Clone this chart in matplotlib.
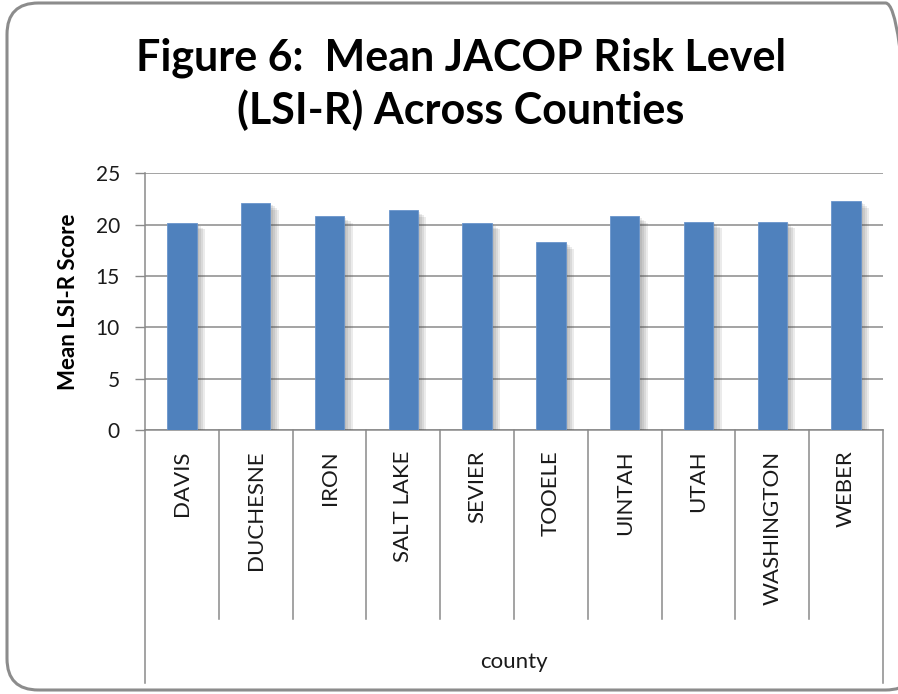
import matplotlib
matplotlib.use('Agg')
import matplotlib.pyplot as plt
import matplotlib.patheffects as pe
from matplotlib.patches import FancyBboxPatch
import numpy as np

plt.rcParams['font.family'] = ['Lato', 'DejaVu Sans']

counties = ['DAVIS', 'DUCHESNE', 'IRON', 'SALT LAKE', 'SEVIER',
            'TOOELE', 'UINTAH', 'UTAH', 'WASHINGTON', 'WEBER']
mean_lsi = [20.2, 22.1, 20.8, 21.4, 20.2, 18.3, 20.8, 20.3, 20.3, 22.3]
yticks = [0, 5, 10, 15, 20, 25]

W, H = 898, 694
fig = plt.figure(figsize=(W / 100, H / 100), dpi=100)
fig.patch.set_facecolor('white')

# rounded chart frame (runs off the right edge)
frame = FancyBboxPatch((7 / W, 4 / H), 910 / W, 687 / H,
                       boxstyle='round,pad=0,rounding_size=0.035',
                       transform=fig.transFigure, facecolor='none',
                       edgecolor='#8c8c8c', linewidth=2.2, mutation_aspect=W / H,
                       zorder=-1)
fig.patches.append(frame)

x0, x1 = 145, 883
ytop, ybot = 173.3, 430
ax = fig.add_axes([x0 / W, 1 - ybot / H, (x1 - x0) / W, (ybot - ytop) / H])
ax.set_facecolor('none')

grid_c = '#8a8a8a'
txt_c = '#1a1a1a'
x = np.arange(len(counties))
shadow = [pe.SimplePatchShadow(offset=(o, -o * 0.8), shadow_rgbFace='#444444', alpha=0.1)
          for o in (1.5, 3, 4.5, 6)]
bars = ax.bar(x, mean_lsi, width=0.4, color='#4F81BD', edgecolor='#6a95cc',
              linewidth=0.6, zorder=3)
for b in bars:
    b.set_path_effects(shadow + [pe.Normal()])

ax.set_xlim(-0.5, len(counties) - 0.5)
ax.set_ylim(0, 25)
ax.set_yticks(yticks)
ax.yaxis.grid(True, color=grid_c, linewidth=1.1)
ax.set_axisbelow(True)
ax.tick_params(axis='y', length=7, width=1, color=grid_c, labelsize=15,
               pad=11, labelcolor=txt_c)
ax.set_xticks([])
for s in ('top', 'right'):
    ax.spines[s].set_visible(False)
for s in ('left', 'bottom'):
    ax.spines[s].set_color(grid_c)
    ax.spines[s].set_linewidth(1.1)

# category dividers and outer frame of the multi-level axis
trans = ax.get_xaxis_transform()
for k in range(1, len(counties)):
    ax.plot([k - 0.5, k - 0.5], [0, -0.736], transform=trans, color=grid_c,
            linewidth=1.1, clip_on=False)
for xe in (-0.5, len(counties) - 0.5):
    ax.plot([xe, xe], [0, -0.986], transform=trans, color=grid_c,
            linewidth=1.1, clip_on=False)

for xi, name in zip(x, counties):
    ax.text(xi, -0.08, name, transform=trans, rotation=90, ha='center',
            va='top', fontsize=16, color=txt_c)

ax.text(0.5, -0.905, 'county', transform=ax.transAxes, ha='center',
        va='center', fontsize=16, color=txt_c)

ax.set_ylabel('Mean LSI-R Score', fontsize=16, fontweight='bold', labelpad=12)

fig.text(461 / W, 1 - 58 / H, 'Figure 6:  Mean JACOP Risk Level',
         ha='center', va='center', fontsize=31, fontweight='bold')
fig.text(461 / W, 1 - 110 / H, '(LSI-R) Across Counties',
         ha='center', va='center', fontsize=31, fontweight='bold')

fig.savefig('out.png', dpi=100, facecolor='white')
